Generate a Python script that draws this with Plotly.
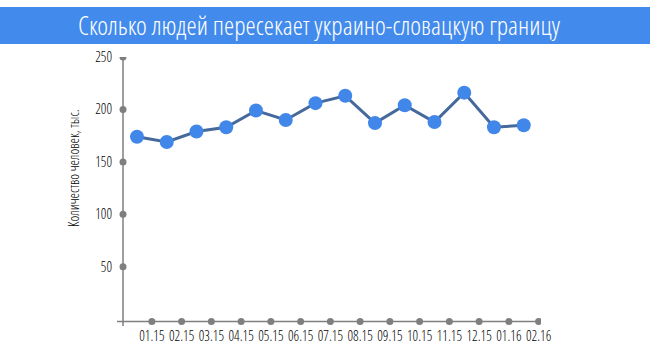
import plotly.graph_objects as go

months = ["01.15", "02.15", "03.15", "04.15", "05.15", "06.15", "07.15",
          "08.15", "09.15", "10.15", "11.15", "12.15", "01.16", "02.16"]
values = [174, 169, 179, 183, 199, 190, 206, 213, 187, 204, 188, 216, 183, 185]
y_ticks = [50, 100, 150, 200, 250]

title = "Сколько людей пересекает украино-словацкую границу"
y_title = "Количество человек, тыс."

GREY = "#7f7f7f"
LIGHT = "Open Sans Condensed Light"

idx = list(range(len(months)))
tick_pos = [i + 0.5 for i in idx]
x_min, x_max = -0.672, 13.58
y_min, y_max = -6.4, 250
y_axis_x = -0.47
x_axis_y = -2

fig = go.Figure()

fig.add_trace(go.Scatter(x=tick_pos, y=[x_axis_y] * len(tick_pos), mode="markers",
                         marker=dict(color=GREY, size=7), hoverinfo="skip", showlegend=False))
fig.add_trace(go.Scatter(x=[y_axis_x] * len(y_ticks), y=y_ticks, mode="markers",
                         marker=dict(color=GREY, size=7), hoverinfo="skip", showlegend=False))
fig.add_trace(go.Scatter(x=idx, y=values, mode="lines+markers",
                         line=dict(color="#46699c", width=3),
                         marker=dict(color="#4187ea", size=14),
                         showlegend=False))

fig.update_layout(
    width=650, height=358,
    margin=dict(l=117, r=109, t=57, b=32),
    paper_bgcolor="white", plot_bgcolor="white",
    font=dict(family=LIGHT, size=13, color="#000"),
    xaxis=dict(range=[x_min, x_max], showgrid=False, zeroline=False, showline=False,
               automargin=False, tickangle=0,
               tickvals=tick_pos, ticktext=months, ticks="",
               tickfont=dict(family=LIGHT, size=14, color="#000")),
    yaxis=dict(range=[y_min, y_max], showgrid=False, zeroline=False, showline=False,
               automargin=False,
               tickvals=y_ticks, ticks="", ticklabelstandoff=4,
               tickfont=dict(family=LIGHT, size=14, color="#000")),
    shapes=[
        dict(type="rect", xref="paper", yref="paper", x0=-0.3, x1=1.3, y0=1.048, y1=1.186,
             fillcolor="#428bec", line=dict(width=0), layer="below"),
        dict(type="line", xref="x", yref="y", x0=y_axis_x, x1=y_axis_x, y0=y_min, y1=y_max,
             line=dict(color=GREY, width=1.5)),
        dict(type="line", xref="x", yref="y", x0=x_min, x1=x_max, y0=x_axis_y, y1=x_axis_y,
             line=dict(color=GREY, width=1.5)),
    ],
    annotations=[
        dict(text=title, xref="paper", yref="paper", x=(319 - 117) / 424, y=1.119, showarrow=False,
             xanchor="center", yanchor="middle",
             font=dict(family=LIGHT, size=26, color="white")),
        dict(text=y_title, xref="paper", yref="paper", x=(73 - 117) / 424, y=(326 - 168) / 269,
             showarrow=False, textangle=-90, xanchor="center", yanchor="middle",
             font=dict(family=LIGHT, size=14, color="#000")),
    ],
)

fig.write_html("out.html", config={"displayModeBar": False},
               post_script="document.body.style.margin='0';")
